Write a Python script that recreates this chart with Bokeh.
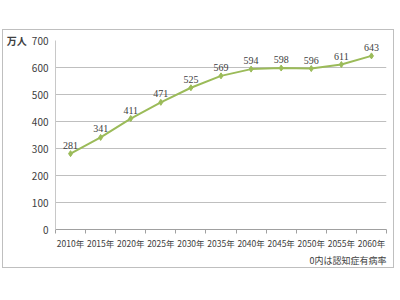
from bokeh.plotting import figure
from bokeh.models import ColumnDataSource, LabelSet, FixedTicker, Title
from bokeh.embed import file_html
from bokeh.resources import INLINE

years = ["2010年", "2015年", "2020年", "2025年", "2030年", "2035年",
         "2040年", "2045年", "2050年", "2055年", "2060年"]
values = [281, 341, 411, 471, 525, 569, 594, 598, 596, 611, 643]
y_ticks = [0, 100, 200, 300, 400, 500, 600, 700]
unit_label = "万人"
note_text = "0内は認知症有病率"

FONT = "Noto Sans CJK JP"
GREEN = "#9BBB59"
TXT = "#404040"

xs = list(range(len(years)))
src = ColumnDataSource(dict(x=xs, y=values, lab=[str(v) for v in values]))

p = figure(width=390, height=237, x_range=(-0.5, len(years) - 0.5), y_range=(0, 700),
           output_backend="svg", toolbar_location=None,
           min_border_left=52, min_border_right=7, min_border_top=10, min_border_bottom=38)
p.margin = (30, 0, 0, 3)
p.styles = {"outline": "1px solid #BFBFBF"}
p.outline_line_color = None
p.background_fill_color = "white"
p.border_fill_color = "white"

p.line("x", "y", source=src, line_color=GREEN, line_width=2)
p.scatter("x", "y", source=src, marker="diamond", size=6, fill_color=GREEN, line_color=GREEN)

p.add_layout(LabelSet(x="x", y="y", text="lab", source=src, y_offset=5,
                      text_align="center", text_baseline="bottom",
                      text_font=FONT, text_font_size="10px", text_color=TXT))

# x axis
p.xaxis.ticker = FixedTicker(ticks=xs, minor_ticks=[i - 0.5 for i in range(len(years) + 1)])
p.xaxis.major_label_overrides = {i: t for i, t in enumerate(years)}
p.xaxis.major_tick_out = 0
p.xaxis.major_tick_in = 0
p.xaxis.minor_tick_out = 4
p.xaxis.minor_tick_in = 0
p.xaxis.minor_tick_line_color = "#A0A0A0"
p.xaxis.axis_line_color = "#A0A0A0"
p.xaxis.major_label_text_font = FONT
p.xaxis.major_label_text_font_size = "8.5px"
p.xaxis.major_label_text_color = TXT
p.xaxis.major_label_standoff = 3

p.add_layout(Title(text=note_text, align="right", text_font=FONT, text_font_size="9px",
                   text_font_style="normal", text_color=TXT, standoff=0, offset=0),
             "below")

# y axis
p.yaxis.ticker = FixedTicker(ticks=y_ticks)
p.yaxis.major_tick_out = 0
p.yaxis.major_tick_in = 0
p.yaxis.minor_tick_out = 0
p.yaxis.minor_tick_in = 0
p.yaxis.axis_line_color = "#C8C8C8"
p.yaxis.major_label_text_font = FONT
p.yaxis.major_label_text_font_size = "10px"
p.yaxis.major_label_text_color = TXT
p.yaxis.major_label_standoff = 7
p.yaxis.axis_label = unit_label
p.yaxis.axis_label_orientation = "horizontal"
p.yaxis.axis_label_align = "end"
p.yaxis.axis_label_standoff = 2
p.yaxis.axis_label_text_font = FONT
p.yaxis.axis_label_text_font_size = "10px"
p.yaxis.axis_label_text_font_style = "bold"
p.yaxis.axis_label_text_color = TXT

p.xgrid.grid_line_color = None
p.ygrid.grid_line_color = "#BFBFBF"
p.ygrid.ticker = FixedTicker(ticks=y_ticks)

open("out.html", "w").write(file_html(p, INLINE))
